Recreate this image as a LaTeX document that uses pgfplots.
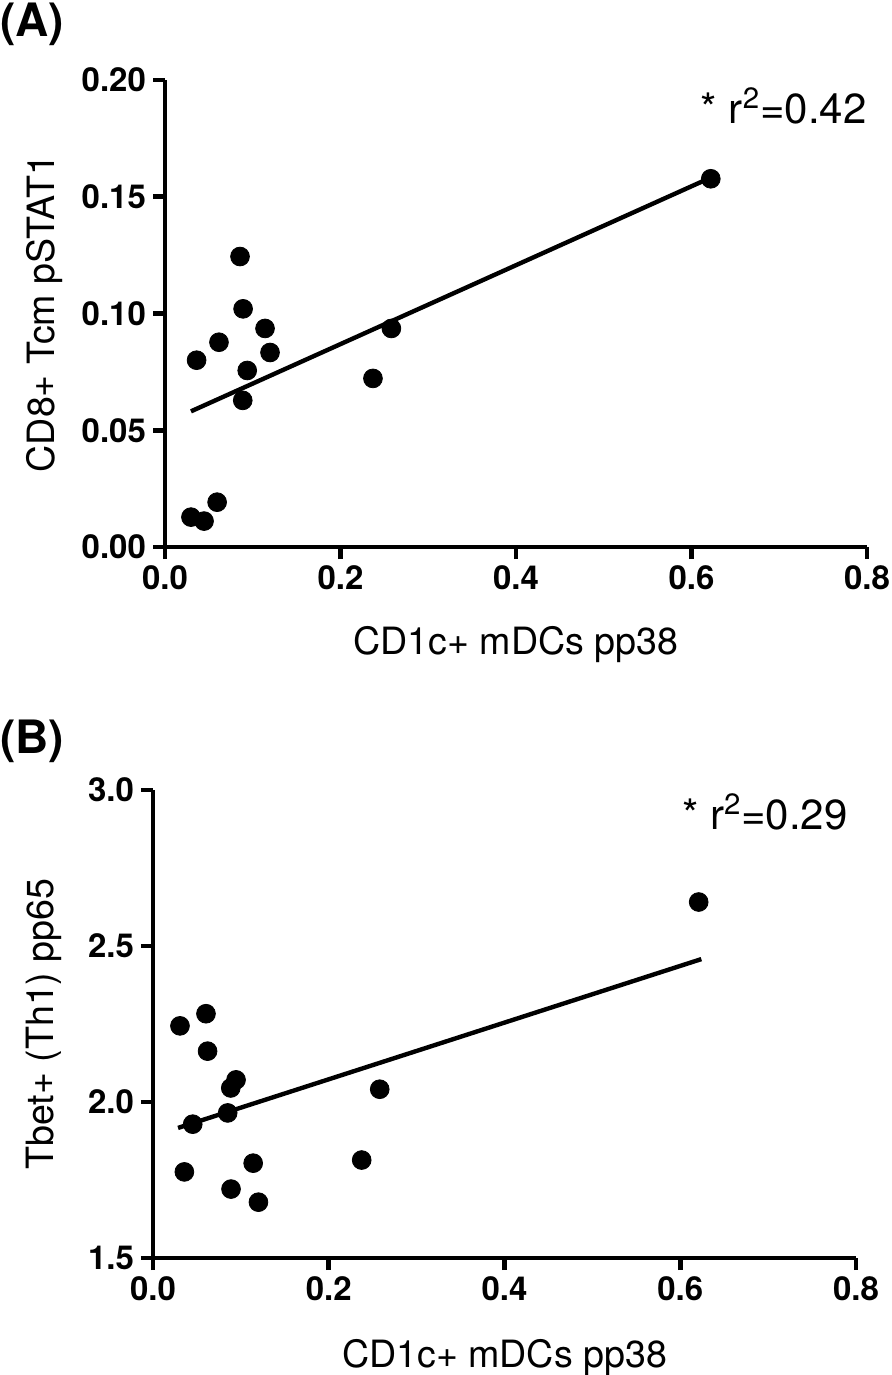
\documentclass[border=0pt]{standalone}
\usepackage{fontspec}
\setmainfont{TeX Gyre Heros}
\usepackage{pgfplots}
\pgfplotsset{compat=1.18}

\pgfplotsset{prism/.style={
    scale only axis,
    axis lines=left,
    axis line style={-, line width=2.4pt},
    tick style={line width=2.4pt, black},
    tick align=outside,
    major tick length=6pt,
    clip=false,
    /pgf/number format/assume math mode=true,
    ticklabel style={font=\bfseries\fontsize{16.5}{19}\selectfont},
    label style={font=\fontsize{18.8}{22}\selectfont},
    xtick={0,0.2,0.4,0.6,0.8},
    xmin=0, xmax=0.8,
    xticklabel style={/pgf/number format/.cd, fixed, fixed zerofill, precision=1},
    xlabel={CD1c+ mDCs pp38},
}}

% panel A
\pgfplotstableread{
x y
0.0296 0.0128
0.0445 0.0111
0.0594 0.0192
0.036 0.080
0.0615 0.0877
0.0855 0.1244
0.089 0.102
0.0886 0.0628
0.0937 0.0756
0.114 0.0936
0.1197 0.0833
0.237 0.0722
0.258 0.0936
0.622 0.1577
}\dataA

% panel B
\pgfplotstableread{
x y
0.0307 2.244
0.0603 2.283
0.0621 2.163
0.0945 2.071
0.0885 2.045
0.0850 1.965
0.0452 1.929
0.0357 1.776
0.114 1.804
0.0888 1.721
0.120 1.679
0.258 2.041
0.2375 1.814
0.621 2.641
}\dataB

\begin{document}
\begin{tikzpicture}
\path[use as bounding box] (0,0) rectangle (445.5pt,-687.5pt);

\node[anchor=base west, inner sep=0, font=\bfseries\fontsize{23}{26}\selectfont] at (0pt,-18.5pt) {(A)};
\node[anchor=base west, inner sep=0, font=\bfseries\fontsize{23}{26}\selectfont] at (0pt,-376.5pt) {(B)};

\begin{axis}[prism,
    at={(82.5pt,-273.5pt)}, anchor=south west,
    width=351pt, height=233.5pt,
    ymin=0, ymax=0.2,
    ytick={0,0.05,0.1,0.15,0.2},
    yticklabel style={/pgf/number format/.cd, fixed, fixed zerofill, precision=2},
    ylabel={CD8+ Tcm pSTAT1},
    xlabel style={at={(axis description cs:0.5,-0.231)}, anchor=base},
    ylabel style={at={(axis description cs:-0.158,0.5)}, anchor=base},
]
\addplot[only marks, mark=*, mark size=4.7pt, mark options={draw=black, fill=black}] table[x=x, y=y] {\dataA};
\addplot[black, line width=2.2pt, no markers] coordinates {(0.0296,0.0581) (0.622,0.1582)};
\node[anchor=base east, inner sep=0, font=\fontsize{21}{24}\selectfont] at (axis cs:0.8,0.1812) {* r\textsuperscript{2}=0.42};
\end{axis}

\begin{axis}[prism,
    at={(76.5pt,-629pt)}, anchor=south west,
    width=351.5pt, height=234pt,
    ymin=1.5, ymax=3.0,
    ytick={1.5,2.0,2.5,3.0},
    yticklabel style={/pgf/number format/.cd, fixed, fixed zerofill, precision=1},
    ylabel={Tbet+ (Th1) pp65},
    xlabel style={at={(axis description cs:0.5,-0.233)}, anchor=base},
    ylabel style={at={(axis description cs:-0.142,0.5)}, anchor=base},
]
\addplot[only marks, mark=*, mark size=4.7pt, mark options={draw=black, fill=black}] table[x=x, y=y] {\dataB};
\addplot[black, line width=2.2pt, no markers] coordinates {(0.0285,1.917) (0.624,2.458)};
\node[anchor=base east, inner sep=0, font=\fontsize{21}{24}\selectfont] at (axis cs:0.791,2.872) {* r\textsuperscript{2}=0.29};
\end{axis}
\end{tikzpicture}
\end{document}
